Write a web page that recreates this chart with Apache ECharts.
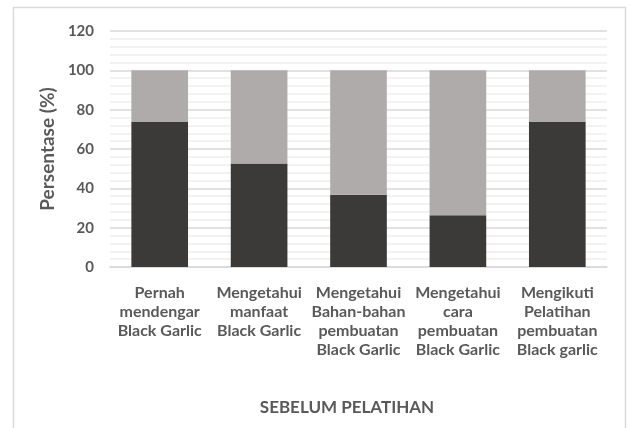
<!DOCTYPE html>
<html>
<head>
<meta charset="utf-8">
<script src="https://cdn.jsdelivr.net/npm/echarts@6/dist/echarts.min.js"></script>
<style>html,body{margin:0;padding:0;background:#fff;}#c{width:630px;height:428px;}</style>
</head>
<body>
<div id="c"></div>
<script>
const categories = [
  "Pernah\nmendengar\nBlack Garlic",
  "Mengetahui\nmanfaat\nBlack Garlic",
  "Mengetahui\nBahan-bahan\npembuatan\nBlack Garlic",
  "Mengetahui\ncara\npembuatan\nBlack Garlic",
  "Mengikuti\nPelatihan\npembuatan\nBlack garlic"
];
const seriesYes = [73.7, 52.6, 36.8, 26.3, 73.7];
const seriesNo = [26.3, 47.4, 63.2, 73.7, 26.3];
const yTicks = [0, 20, 40, 60, 80, 100, 120];

const FONT = 'Lato';
const TXT = '#595959';
const chart = echarts.init(document.getElementById('c'), null, {renderer: 'canvas'});
chart.setOption({
  animation: false,
  backgroundColor: '#fff',
  textStyle: {fontFamily: FONT},
  graphic: [
    {type: 'rect', shape: {x: 13.5, y: 7.5, width: 612, height: 440}, style: {fill: 'none', stroke: '#d9d9d9', lineWidth: 1.5}},
    {type: 'text', x: 347, y: 408, style: {text: 'SEBELUM PELATIHAN', font: 'bold 17px ' + FONT, fill: TXT, align: 'center', verticalAlign: 'middle'}}
  ],
  grid: {left: 110, right: 23, top: 31, bottom: 161, containLabel: false},
  xAxis: {
    type: 'category',
    data: categories,
    axisLine: {show: true, lineStyle: {color: '#d9d9d9', width: 1.5}},
    axisTick: {show: false},
    axisLabel: {interval: 0, color: TXT, fontWeight: 'bold', fontSize: 16, lineHeight: 19, margin: 16, fontFamily: FONT}
  },
  yAxis: {
    type: 'value',
    min: yTicks[0],
    max: yTicks[yTicks.length - 1],
    interval: 20,
    name: 'Persentase (%)',
    nameLocation: 'middle',
    nameGap: 48,
    nameTextStyle: {color: TXT, fontWeight: 'bold', fontSize: 19, fontFamily: FONT},
    axisLine: {show: false},
    axisTick: {show: false},
    axisLabel: {color: TXT, fontWeight: 'bold', fontSize: 15, margin: 16, fontFamily: FONT},
    splitLine: {show: true, lineStyle: {color: '#d9d9d9', width: 1.5}},
    minorTick: {show: false, splitNumber: 5},
    minorSplitLine: {show: true, lineStyle: {color: '#eeeeee', width: 1.5}}
  },
  series: [
    {type: 'bar', stack: 'a', data: seriesYes, barCategoryGap: '43%', itemStyle: {color: '#3b3a38'}},
    {type: 'bar', stack: 'a', data: seriesNo, barCategoryGap: '43%', itemStyle: {color: '#afabaa'}}
  ]
});
</script>
</body>
</html>
